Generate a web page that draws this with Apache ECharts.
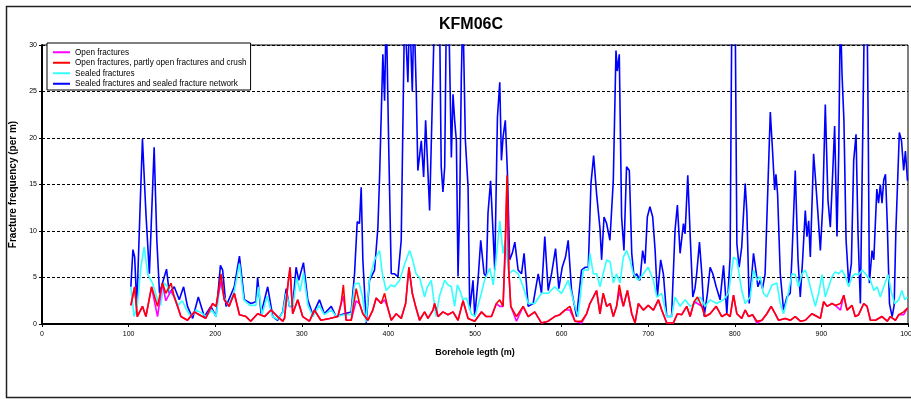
<!DOCTYPE html>
<html>
<head>
<meta charset="utf-8">
<script src="https://cdn.jsdelivr.net/npm/echarts@6/dist/echarts.min.js"></script>
<style>
  html, body { margin: 0; padding: 0; background: #fff; }
  #chart { width: 911px; height: 399px; }
</style>
</head>
<body>
<div id="chart"></div>
<script>
// [borehole length (m), fracture frequency (per m)].
// Values above 30 are peaks that run off the top of the plot.
const openFractures = [
  [102.6,2.0],[107,4.0],[110,0.8],[116,1.9],[120,0.8],[126.5,4.0],[133.4,0.8],[139,4.4],[143,2.5],[149,3.6],
  [152.7,2.9],[156.5,1.9],[160.4,0.8],[168,0.4],[175.8,1.3],[181.6,1.0],[189,0.6],[197,2.2],[201,1.9],[206.7,4.6],
  [210.5,2.6],[216,1.9],[222,3.3],[228,1.0],[235.6,0.8],[241,0.3],[249,1.1],[257,0.8],[264.5,1.5],[272,0.8],
  [278,0.3],[280,0.6],[283.7,4.0],[286.4,6.1],[289.5,1.1],[295.3,2.6],[301,0.8],[308.8,0.3],[314.6,1.5],[322,0.4],
  [332,0.6],[341.6,0.8],[345.4,2.2],[348,3.0],[351.2,0.4],[357,0.4],[362.8,2.5],[366.6,2.2],[370.5,1.1],[376.3,0.4],
  [382,1.5],[385.9,2.8],[391.7,2.2],[395.6,2.6],[399.4,1.7],[403.3,0.4],[409,1.1],[414.8,0.6],[419.9,2.2],[423.7,6.1],
  [427.6,3.3],[431.4,1.9],[436,0.4],[441.8,1.3],[445.7,0.6],[451.5,1.5],[453.4,2.2],[457.3,0.8],[463,1.3],[468.8,1.0],
  [474.6,1.3],[480.4,0.4],[486.2,2.5],[492,0.6],[499.7,0.3],[507.4,1.3],[513,0.8],[519,0.8],[524.7,2.2],[528.6,1.9],
  [532.4,1.9],[535,8.0],[537,15.5],[539,5.8],[541.3,1.9],[547.9,0.3],[555.6,1.9],[561.4,0.8],[569,1.3],[576.8,0.1],
  [584.5,0.3],[592,0.8],[598,1.0],[603.8,1.5],[609.6,1.5],[615.4,0.3],[623,0.1],[628.9,1.1],[632.7,2.2],[636.6,2.9],
  [640.4,3.6],[644.3,1.1],[648,3.3],[652,1.9],[656,2.2],[659.7,0.8],[663.5,1.9],[666.6,3.5],[671.3,1.9],[676,3.6],
  [681,1.1],[684.8,0.1],[688.6,2.2],[694.4,1.5],[700,2.0],[706,1.5],[711.7,2.6],[715.6,1.5],[721.4,0.1],[729,0.1],
  [733.7,1.1],[738.7,1.0],[744.5,1.9],[748.4,0.8],[753,2.4],[756.9,2.2],[761.9,1.9],[765.7,0.8],[771.5,1.1],[778.5,1.9],
  [785,0.8],[790.8,1.1],[794.6,0.8],[798.5,3.1],[802.4,1.1],[808,0.6],[812,1.5],[816,0.8],[820.5,1.0],[825.5,0.1],
  [831.3,0.4],[837,1.1],[842,1.9],[846.7,1.1],[850.6,0.4],[858.3,0.6],[864,0.4],[869.8,0.8],[875.6,0.3],[881.4,0.4],
  [889,1.1],[895,0.8],[898.8,0.6],[902.6,2.4],[906.5,1.9],[912.3,2.2],[916,2.0],[922,1.5],[925.8,3.1],[929.6,1.5],
  [935.4,2.0],[939,0.8],[943,1.0],[948.9,2.2],[952.7,1.9],[956.6,0.4],[962.4,0.4],[970,0.8],[976,0.3],[979.7,0.8],
  [985.5,0.4],[989.4,1.0],[995,1.0],[999.4,1.7]
];

const openPartlyCrush = [
  [102.6,2.0],[107,4.0],[110,0.8],[116,1.9],[120,0.8],[126.5,4.0],[133.4,1.9],[139,4.4],[143,3.3],[149,4.4],
  [152.7,2.9],[156.5,1.9],[160.4,0.8],[168,0.4],[175.8,1.3],[181.6,1.0],[189,0.6],[197,2.2],[201,1.9],[206.7,5.4],
  [210.5,2.6],[216,1.9],[222,3.3],[228,1.0],[235.6,0.8],[241,0.3],[249,1.1],[257,0.8],[264.5,1.5],[272,0.8],
  [278,0.3],[280,0.6],[283.7,4.0],[286.4,6.1],[289.5,1.1],[295.3,2.6],[301,0.8],[308.8,0.3],[314.6,1.5],[322,0.4],
  [332,0.6],[341.6,0.8],[345.4,2.2],[348,4.2],[351.2,0.4],[357,0.4],[362.8,3.8],[366.6,2.2],[370.5,1.1],[376.3,0.4],
  [382,1.5],[385.9,2.8],[391.7,2.2],[395.6,3.3],[399.4,1.7],[403.3,0.4],[409,1.1],[414.8,0.6],[419.9,2.2],[423.7,6.1],
  [427.6,3.3],[431.4,1.9],[436,0.4],[441.8,1.3],[445.7,0.6],[451.5,1.5],[453.4,2.2],[457.3,0.8],[463,1.3],[468.8,1.0],
  [474.6,1.3],[480.4,0.4],[486.2,2.5],[492,0.6],[499.7,0.3],[507.4,1.3],[513,0.8],[519,0.8],[524.7,2.2],[528.6,2.6],
  [532.4,1.9],[535,9.0],[537,16.0],[539,5.8],[541.3,1.9],[547.9,0.8],[555.6,1.9],[561.4,0.8],[569,1.3],[576.8,0.1],
  [584.5,0.3],[592,0.8],[598,1.0],[603.8,1.5],[609.6,1.9],[615.4,0.3],[623,0.3],[628.9,1.1],[632.7,2.2],[636.6,2.9],
  [640.4,3.6],[644.3,1.1],[648,3.3],[652,1.9],[656,2.2],[659.7,0.8],[663.5,1.9],[666.6,4.2],[671.3,1.9],[676,3.6],
  [681,1.1],[684.8,0.1],[688.6,2.2],[694.4,1.5],[700,2.0],[706,1.5],[711.7,2.6],[715.6,1.5],[721.4,0.1],[729,0.1],
  [733.7,1.1],[738.7,1.0],[744.5,1.9],[748.4,0.8],[753,2.4],[756.9,2.9],[761.9,1.9],[765.7,0.8],[771.5,1.1],[778.5,1.9],
  [785,0.8],[790.8,1.1],[794.6,0.8],[798.5,3.1],[802.4,1.1],[808,0.6],[812,1.5],[816,0.8],[820.5,1.0],[825.5,0.3],
  [831.3,0.4],[837,1.1],[842,1.9],[846.7,1.1],[850.6,0.4],[858.3,0.6],[864,0.4],[869.8,0.8],[875.6,0.3],[881.4,0.4],
  [889,1.1],[895,0.8],[898.8,0.6],[902.6,2.4],[906.5,1.9],[912.3,2.2],[916,2.0],[922,2.2],[925.8,3.1],[929.6,1.5],
  [935.4,2.0],[939,0.8],[943,1.0],[948.9,2.2],[952.7,1.9],[956.6,0.4],[962.4,0.4],[970,0.8],[976,0.3],[979.7,0.8],
  [985.5,0.4],[989.4,1.0],[995,1.3],[999.4,1.7]
];

const sealedFractures = [
  [102.6,4.0],[106.4,0.8],[110,1.9],[114,6.0],[118,8.3],[122,5.4],[127.6,4.4],[133.4,2.6],[137,2.0],[141,4.4],
  [145,4.0],[149,3.3],[153,3.0],[157,2.0],[162,2.5],[167,1.5],[172,0.8],[178,1.5],[184,1.2],[190,0.8],
  [196,1.5],[201,0.8],[206,4.4],[210,3.0],[215,1.9],[222,3.5],[228,6.5],[233,2.6],[240,2.0],[247,2.0],
  [250,4.0],[254,1.0],[260,3.0],[266,0.8],[272,0.5],[278,1.2],[282,3.3],[286,1.9],[290,2.0],[294,5.0],
  [298,3.5],[302,5.5],[307,2.0],[313,0.8],[320,2.0],[326,1.0],[334,1.5],[340,0.8],[349,1.0],[357,1.0],
  [361,4.3],[366,4.4],[370,3.0],[374,0.2],[378,4.7],[384,6.9],[389.8,7.9],[393,5.4],[397.5,3.6],[403,4.2],
  [407,4.0],[413,4.7],[419,6.5],[424.5,7.9],[428,6.9],[432,5.4],[436,5.0],[441.8,2.9],[445,4.0],[449.5,4.7],
  [453.4,1.9],[455,0.8],[459,3.0],[465,4.7],[469,4.2],[472.7,4.0],[476.5,1.9],[479.6,4.2],[483,3.5],[486,2.6],
  [490,2.8],[495.8,1.1],[500,0.8],[503.5,2.0],[507.4,3.3],[511,4.7],[517,6.0],[521,4.2],[524.7,7.2],[528.6,11.1],
  [532.4,7.6],[535,9.0],[539,5.4],[544,5.8],[550,5.4],[555.6,4.0],[561.4,2.2],[569,2.2],[576.8,3.3],[584.5,3.3],
  [592,4.0],[600,3.3],[607.6,4.7],[615.4,1.9],[619,0.8],[625,5.8],[630.8,5.8],[632.7,7.6],[636.6,5.4],[640.4,5.4],
  [644.3,4.0],[648,5.4],[652,6.9],[656,6.7],[659.7,4.4],[663.5,5.4],[667.4,4.4],[671.3,7.2],[675,7.9],[679,6.9],
  [682.8,5.4],[688.6,4.7],[694.4,5.4],[700,6.1],[706,4.7],[710,2.9],[715.6,3.3],[721.4,0.8],[727,0.8],[731,2.9],
  [736.8,1.9],[742.6,2.6],[748.4,1.9],[754,2.2],[760,2.9],[765.7,1.9],[771.5,2.6],[779,2.2],[787,2.6],[792.7,3.3],
  [798.5,7.2],[802.4,6.9],[808,3.6],[812,2.2],[817.8,2.9],[821.6,5.8],[825.5,4.7],[829.4,5.1],[833,3.3],[837,2.9],
  [843,4.2],[848.6,4.4],[852.5,2.2],[856.3,1.1],[860.2,2.6],[866,5.4],[869.8,5.3],[873.7,4.0],[877.5,5.4],[881.4,5.8],
  [885.3,4.7],[889,3.3],[893,1.9],[896.8,3.3],[900.7,5.3],[904.5,2.9],[908.4,4.0],[912.3,5.1],[916,5.6],[920,5.4],
  [923.8,5.8],[927.7,5.1],[931.5,4.0],[935.4,5.1],[939,5.4],[943,5.3],[947,5.8],[950.8,5.4],[956.6,4.7],[960.5,3.6],
  [964.3,4.0],[968,2.9],[972,4.0],[977,5.3],[981,3.3],[984.7,2.2],[989.4,2.6],[993,3.6],[996.3,2.6],[999.4,2.9]
];

const sealedNetwork = [
  [102.6,4.0],[105,8.0],[107,7.2],[109.5,1.9],[113.4,12.9],[116,19.9],[120,11.9],[124,5.4],[129.5,19.0],[132.6,9.0],
  [135.7,3.3],[143.8,5.9],[147,3.3],[152.7,4.0],[158.5,2.6],[163.5,4.0],[168,1.9],[174,0.6],[180.5,2.9],[187.4,0.8],
  [195,1.9],[201,0.8],[206,6.3],[208.6,5.8],[212.5,1.9],[222,4.0],[228,7.3],[233.7,2.6],[241.4,2.2],[247,2.4],
  [249,5.0],[253,1.1],[260.6,4.0],[266.5,0.8],[272,0.4],[278,1.3],[282,3.8],[285.7,1.9],[289.5,1.9],[293.4,6.1],
  [296.5,4.7],[301.9,6.6],[306.9,2.6],[312.7,1.0],[320.4,2.6],[326,1.1],[334,1.9],[339.6,0.8],[349,1.1],[357,1.3],
  [360.9,5.4],[364,11.0],[366.6,10.8],[368.6,14.7],[370.5,6.9],[374.4,0.1],[378.2,4.7],[384,5.8],[387.9,10.4],[389.8,15.8],
  [393.6,29],[395.6,24],[397.5,34],[400.6,17.9],[403.3,5.4],[407,5.4],[411,5.1],[414.8,9.0],[418.7,34],[422.5,26],
  [424.5,34],[427.6,25],[429.5,34],[432.2,25],[434,16.5],[438,19.7],[440.7,15.8],[443,21.9],[447.6,12.2],[453.4,34],
  [459,34],[461,16.9],[463,14.2],[465,16.9],[467,34],[469.6,34],[472.7,17.9],[474.6,24.7],[476.5,21.9],[478.5,19.7],
  [480.4,5.1],[482.3,12.6],[484.2,26.5],[486,34],[488.9,19.7],[492,14.7],[493.9,1.5],[497.7,4.7],[499.7,0.8],[503.5,4.7],
  [506.6,9.0],[510.5,5.4],[513,5.1],[515,11.9],[518,15.4],[520.9,9.7],[522.8,5.8],[525.9,22.2],[528.6,26],[530.5,17.6],
  [532.4,20.1],[535,21.9],[537.5,16.1],[540,6.9],[543,7.6],[546,8.8],[549.8,5.8],[553.7,5.4],[556.7,7.6],[561.4,1.9],
  [567.1,2.2],[573,5.4],[576.8,3.3],[580.6,9.4],[584.5,3.6],[588.4,5.4],[593,8.1],[596.8,3.8],[600.7,6.1],[604.5,7.2],
  [607.6,9.0],[611.5,3.6],[617.3,0.8],[623,5.8],[627,6.1],[630.8,6.1],[633.9,15.1],[637,18.1],[640.4,14.0],[644.3,10.3],
  [646.2,6.9],[649,11.5],[652,10.8],[655.8,9.0],[659.7,15.4],[662.8,29.4],[664.3,27.2],[666.6,29.0],[669.3,11.5],[672,7.9],
  [675,16.9],[678.2,16.5],[681,7.6],[683.6,5.1],[686.7,5.4],[690.5,4.7],[693.6,7.9],[696.3,6.5],[699,11.5],[702,12.6],
  [705.2,11.5],[708,7.9],[710.6,2.9],[714.4,6.9],[717.5,5.4],[721.4,0.8],[727,0.8],[731,10.1],[733.7,12.8],[736.8,7.6],
  [740.7,10.8],[742.6,9.7],[745.7,16.0],[748.4,9.7],[751.5,2.9],[754,3.8],[756,5.4],[759.2,8.8],[761.9,5.4],[764.6,0.8],
  [768.4,3.3],[771.5,6.1],[774.6,5.4],[778.5,4.0],[783,2.6],[787,6.3],[790.8,1.1],[794.6,7.2],[796.6,34],[800.4,34],
  [802.4,8.6],[805,6.1],[808,8.3],[812,15.1],[814,11.9],[816.6,2.2],[819.7,5.4],[821.6,7.6],[824.3,5.8],[826.7,4.0],
  [829.4,4.7],[832,3.8],[835,5.4],[838.2,14.7],[841,22.8],[843.6,18.6],[846,14.4],[847.5,16.1],[849.4,14.0],[852.5,5.4],
  [856.3,1.5],[860.2,2.9],[864,3.3],[866,7.2],[869.8,16.5],[873,6.9],[875.6,2.9],[878.3,6.9],[881.4,12.2],[883.3,9.4],
  [885.3,11.1],[887.2,7.2],[891,18.3],[893,15.8],[896,11.9],[898.8,7.9],[901.5,12.6],[904.5,23.6],[907.6,13.3],[910.3,10.4],
  [913,16.1],[915.3,21.3],[918,9.4],[920,18.3],[921.9,34],[923.8,26.9],[926,21.9],[928.5,9.0],[931.5,4.4],[934.6,6.5],
  [937.3,17.6],[940,20.4],[942.3,9.7],[945,2.2],[947.7,20.1],[949.7,34],[952.7,34],[954,21.9],[955.4,4.4],[958.5,7.9],
  [960.5,6.9],[964,14.5],[966,13.0],[968,15.0],[970,13.0],[972,15.5],[974,16.1],[976,11.0],[978.6,2.2],[981.7,0.8],
  [984,2.0],[986,10],[990,20.6],[992.5,19.7],[995,16.5],[997,18.6],[999.4,15.4]
];

const seriesNames = [
  "Open fractures",
  "Open fractures, partly open fractures and crush",
  "Sealed fractures",
  "Sealed fractures and sealed fracture network",
];
const seriesColors = ["#ff00ff", "#ff0000", "#33ffff", "#0000ff"];
const seriesData = [openFractures, openPartlyCrush, sealedFractures, sealedNetwork];
// drawing order: blue at the back, red on top
const seriesZ = [4, 5, 3, 2];

const FONT = "'Liberation Sans', Arial, sans-serif";

const chart = echarts.init(document.getElementById("chart"));

chart.setOption({
  animation: false,
  backgroundColor: "#fff",
  title: {
    text: "KFM06C",
    left: 466,
    top: 12,
    textAlign: "center",
    textStyle: { fontFamily: FONT, fontSize: 16, fontWeight: "bold", color: "#000" },
  },
  legend: {
    orient: "vertical",
    left: 47,
    top: 43,
    data: seriesNames,
    icon: "rect",
    itemWidth: 17,
    itemHeight: 2,
    itemGap: 0,
    itemTextGap: 1,
    padding: [4, 4, 1, 6],
    backgroundColor: "#fff",
    borderColor: "#000",
    borderWidth: 1,
    borderRadius: 0,
    z: 10,
    textStyle: { fontFamily: FONT, fontSize: 8.2, color: "#000", lineHeight: 10.5 },
  },
  grid: {
    left: 42,
    top: 45,
    width: 866,
    height: 279,
    outerBoundsMode: "none",
    containLabel: false,
    show: true,
    borderColor: "#000",
    borderWidth: 1,
    backgroundColor: "#fff",
  },
  xAxis: {
    type: "value",
    min: 0,
    max: 1000,
    interval: 100,
    name: "Borehole legth (m)",
    nameLocation: "middle",
    nameGap: 24,
    nameTextStyle: { fontFamily: FONT, fontSize: 9, fontWeight: "bold", color: "#000" },
    axisLine: { show: true, lineStyle: { color: "#000", width: 2 } },
    axisTick: { show: true, length: 3, lineStyle: { color: "#000" } },
    axisLabel: {
      fontFamily: FONT, fontSize: 7, color: "#000", margin: 7,
      formatter: (v) => String(v),
    },
    splitLine: { show: false },
  },
  yAxis: {
    type: "value",
    min: 0,
    max: 30,
    interval: 5,
    name: "Fracture frequency (per m)",
    nameLocation: "middle",
    nameGap: 13,
    nameTextStyle: { fontFamily: FONT, fontSize: 10, fontWeight: "bold", color: "#000" },
    axisLine: { show: true, lineStyle: { color: "#000", width: 2 } },
    axisTick: { show: true, length: 3, lineStyle: { color: "#000" } },
    axisLabel: { fontFamily: FONT, fontSize: 7, color: "#000", margin: 5 },
    splitLine: { show: true, lineStyle: { color: "#000", width: 1, type: [3, 2] } },
  },
  graphic: [
    {
      type: "rect",
      shape: { x: 6.5, y: 6.5, width: 1000, height: 391 },
      style: { fill: null, stroke: "#222", lineWidth: 1.5 },
      silent: true,
      z: -1,
    },
  ],
  series: seriesNames.map((name, i) => ({
    type: "line",
    name: name,
    data: seriesData[i],
    showSymbol: false,
    symbol: "none",
    clip: true,
    z: seriesZ[i],
    color: seriesColors[i],
    lineStyle: { color: seriesColors[i], width: 1.6 },
  })),
});
</script>
</body>
</html>
